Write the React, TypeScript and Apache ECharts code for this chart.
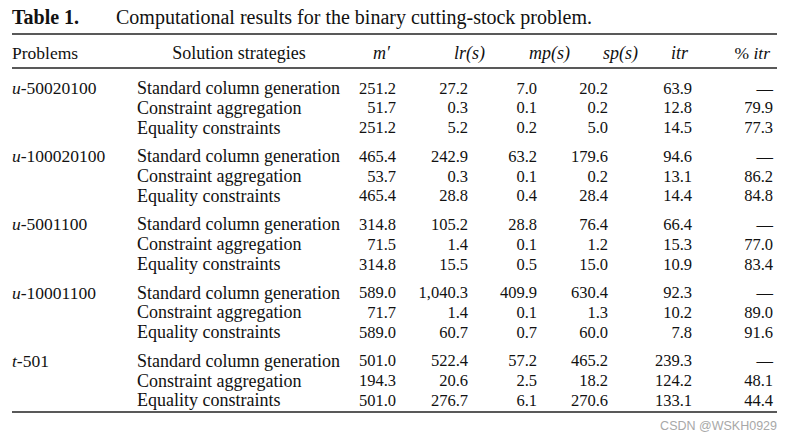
import React, { useEffect, useRef } from "react";
import * as echarts from "echarts";

const titleLabel = "Table 1.";
const titleText = "Computational results for the binary cutting-stock problem.";
const headers = ["Problems", "Solution strategies", "m′", "lr(s)", "mp(s)", "sp(s)", "itr", "% itr"];
const problems = ["50020100", "100020100", "5001100", "10001100", "501"];
const problemPrefix = ["u", "u", "u", "u", "t"];
const strategies = ["Standard column generation", "Constraint aggregation", "Equality constraints"];
const mPrime = [
  ["251.2", "51.7", "251.2"],
  ["465.4", "53.7", "465.4"],
  ["314.8", "71.5", "314.8"],
  ["589.0", "71.7", "589.0"],
  ["501.0", "194.3", "501.0"],
];
const lr = [
  ["27.2", "0.3", "5.2"],
  ["242.9", "0.3", "28.8"],
  ["105.2", "1.4", "15.5"],
  ["1,040.3", "1.4", "60.7"],
  ["522.4", "20.6", "276.7"],
];
const mp = [
  ["7.0", "0.1", "0.2"],
  ["63.2", "0.1", "0.4"],
  ["28.8", "0.1", "0.5"],
  ["409.9", "0.1", "0.7"],
  ["57.2", "2.5", "6.1"],
];
const sp = [
  ["20.2", "0.2", "5.0"],
  ["179.6", "0.2", "28.4"],
  ["76.4", "1.2", "15.0"],
  ["630.4", "1.3", "60.0"],
  ["465.2", "18.2", "270.6"],
];
const itr = [
  ["63.9", "12.8", "14.5"],
  ["94.6", "13.1", "14.4"],
  ["66.4", "15.3", "10.9"],
  ["92.3", "10.2", "7.8"],
  ["239.3", "124.2", "133.1"],
];
const pctItr = [
  ["—", "79.9", "77.3"],
  ["—", "86.2", "84.8"],
  ["—", "77.0", "83.4"],
  ["—", "89.0", "91.6"],
  ["—", "48.1", "44.4"],
];
const watermark = "CSDN @WSKH0929";

export default function App() {
  const ref = useRef<HTMLDivElement>(null);
  useEffect(() => {
    if (!ref.current) return;
    const chart = echarts.init(ref.current, undefined, { renderer: "svg" });
    const serif = "Liberation Serif";
    const color = "#111";
    const els: any[] = [];
    const txt = (x: number, y: number, text: string, align: string, fs: number, extra: any = {}) => {
      els.push({
        type: "text",
        x,
        y,
        style: {
          text,
          fontFamily: serif,
          fontSize: fs,
          fill: color,
          align,
          verticalAlign: "middle",
          ...extra,
        },
      });
    };
    // title
    txt(12, 17, titleLabel, "left", 20, { fontWeight: "bold" });
    txt(116, 17, titleText, "left", 20);
    // rules
    const rule = (y: number) =>
      els.push({ type: "line", shape: { x1: 12, y1: y, x2: 777, y2: y }, style: { stroke: "#222", lineWidth: 1.5 } });
    rule(34);
    rule(68);
    rule(412);
    // header
    const headY = 53;
    txt(12, headY, headers[0], "left", 17.5);
    txt(239, headY, headers[1], "center", 18);
    const colRight = [396, 468, 537, 608, 692, 773];
    const headRight = [390, 485, 570, 638, 688, 770];
    for (let i = 2; i < headers.length; i++) {
      if (i === 7) {
        txt(headRight[5], headY, "{n|% }{i|itr}", "right", 17.5, {
          rich: {
            n: { fontFamily: serif, fontSize: 17.5, fill: color },
            i: { fontFamily: serif, fontSize: 17.5, fill: color, fontStyle: "italic" },
          },
        });
      } else {
        txt(headRight[i - 2], headY, headers[i], "right", 18, { fontStyle: "italic" });
      }
    }
    const cols = [mPrime, lr, mp, sp, itr, pctItr];
    const startY = 88;
    const rowGap = 19.8;
    const groupGap = 68.2;
    problems.forEach((p, g) => {
      const gy = startY + g * groupGap;
      txt(12, gy, `{i|${problemPrefix[g]}}{n|-${p}}`, "left", 17.5, {
        rich: {
          n: { fontFamily: serif, fontSize: 17.5, fill: color },
          i: { fontFamily: serif, fontSize: 17.5, fill: color, fontStyle: "italic" },
        },
      });
      strategies.forEach((s, r) => {
        const y = gy + r * rowGap;
        txt(137, y, s, "left", 18);
        cols.forEach((c, ci) => {
          txt(colRight[ci], y, c[g][r], "right", 16.5);
        });
      });
    });
    els.push({
      type: "text",
      x: 777,
      y: 426,
      style: { text: watermark, fontFamily: "Liberation Sans", fontSize: 12.5, fill: "#a8a8a8", align: "right", verticalAlign: "middle" },
    });
    chart.setOption({ animation: false, backgroundColor: "#fff", graphic: { elements: els } });
    return () => chart.dispose();
  }, []);
  return <div ref={ref} style={{ position: "fixed", left: 0, top: 0, width: 791, height: 441 }} />;
}
